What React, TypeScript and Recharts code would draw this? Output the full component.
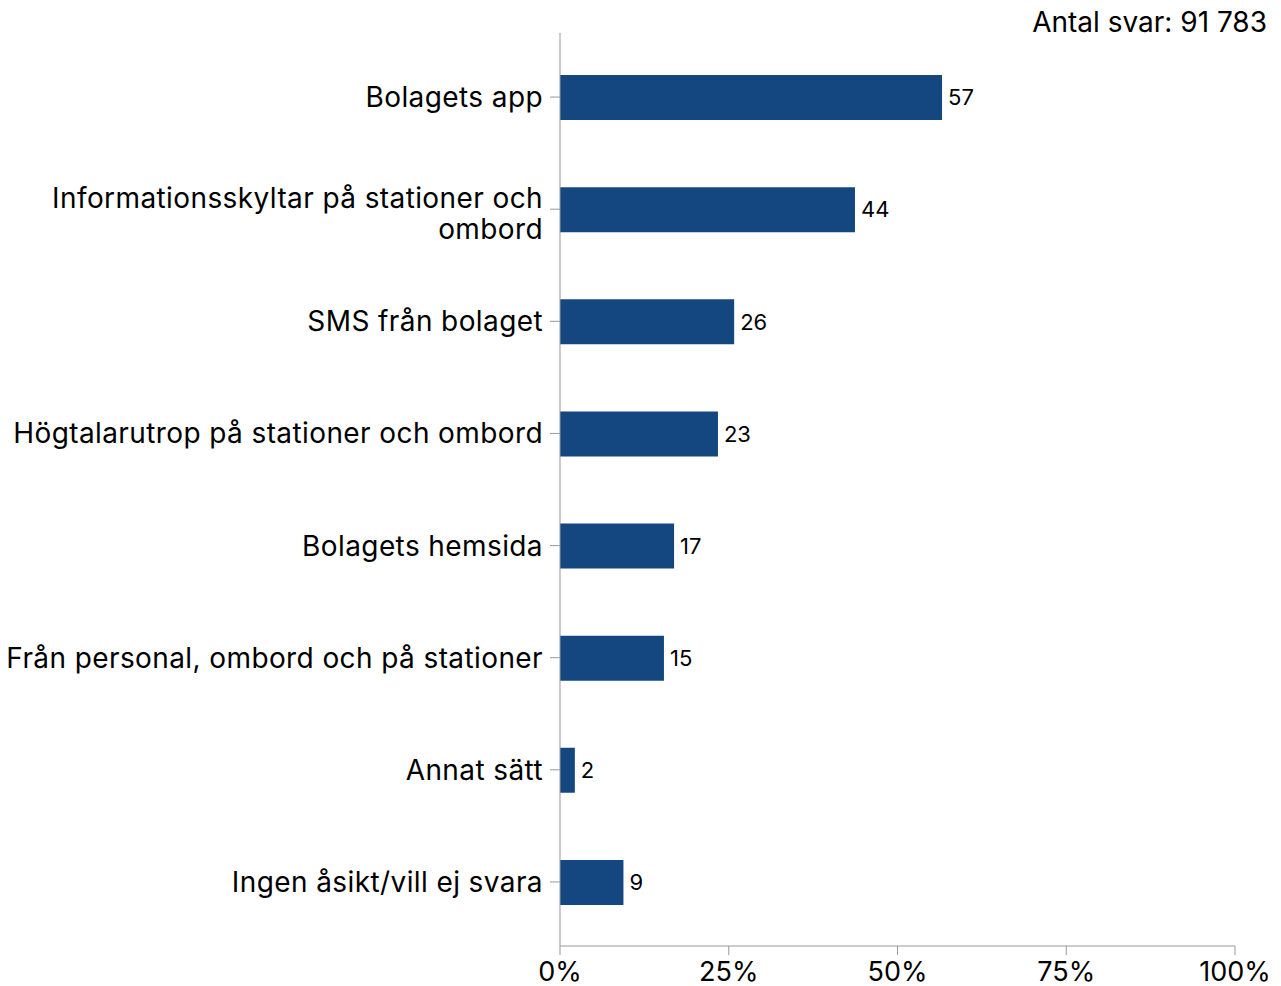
import { BarChart, Bar, XAxis, YAxis, LabelList } from "recharts";

const categories = [
  "Bolagets app",
  "Informationsskyltar på stationer och ombord",
  "SMS från bolaget",
  "Högtalarutrop på stationer och ombord",
  "Bolagets hemsida",
  "Från personal, ombord och på stationer",
  "Annat sätt",
  "Ingen åsikt/vill ej svara",
];
const shares = [56.6, 43.7, 25.8, 23.4, 16.9, 15.4, 2.2, 9.4];
const xTicks = [0, 25, 50, 75, 100];
const respondents = "Antal svar: 91 783";

const data = categories.map((name, i) => ({ name, value: shares[i] }));

const FONT = "Inter, 'Open Sans', sans-serif";
const TICK_FONT_SIZE = 28;
const TICK_SPACING = 0.4;

let ctx: CanvasRenderingContext2D | null = null;
function measure(s: string) {
  if (!ctx) ctx = document.createElement("canvas").getContext("2d");
  if (!ctx) return s.length * TICK_FONT_SIZE * 0.55;
  ctx.font = `${TICK_FONT_SIZE}px ${FONT}`;
  return ctx.measureText(s).width + s.length * TICK_SPACING;
}

function wrap(label: string, maxWidth: number) {
  const words = label.split(" ");
  const lines: string[] = [];
  let cur = "";
  for (const w of words) {
    const next = cur ? cur + " " + w : w;
    if (cur && measure(next) > maxWidth) {
      lines.push(cur);
      cur = w;
    } else cur = next;
  }
  if (cur) lines.push(cur);
  return lines;
}

function CategoryTick(props: any) {
  const { x, y, payload } = props;
  const lines = wrap(String(payload.value), 545);
  const lh = 31;
  const start = -((lines.length - 1) * lh) / 2 + (lines.length > 1 ? 4 : 0);
  return (
    <text
      x={x}
      y={y}
      textAnchor="end"
      fontSize={TICK_FONT_SIZE}
      letterSpacing={TICK_SPACING}
      fontFamily={FONT}
      fill="#000"
    >
      {lines.map((l, i) => (
        <tspan key={i} x={x} dy={i === 0 ? start + 10 : lh}>
          {l}
        </tspan>
      ))}
    </text>
  );
}

export default function App() {
  return (
    <div style={{ position: "absolute", left: 0, top: 0, width: 1281, height: 986, background: "#fff" }}>
      <div
        style={{
          position: "absolute",
          right: 14,
          top: 5,
          fontFamily: FONT,
          fontSize: 28,
          color: "#000",
        }}
      >
        {respondents}
      </div>
      <BarChart
        width={1281}
        height={986}
        data={data}
        layout="vertical"
        margin={{ top: 33, right: 46, bottom: 0, left: 0 }}
        barSize={45}
      >
        <XAxis
          type="number"
          domain={[0, 100]}
          ticks={xTicks}
          tickFormatter={(v) => `${v}%`}
          stroke="#999"
          tickSize={9}
          tickMargin={7}
          height={40}
          tick={{ fontSize: 27, fill: "#000", fontFamily: FONT }}
        />
        <YAxis
          type="category"
          dataKey="name"
          width={560}
          stroke="#999"
          tickSize={10}
          tickMargin={7}
          padding={{ top: 8, bottom: 8 }}
          interval={0}
          tick={<CategoryTick />}
        />
        <Bar dataKey="value" fill="#14477f" isAnimationActive={false}>
          <LabelList
            dataKey="value"
            position="right"
            offset={6}
            formatter={(v: any) => Math.round(Number(v))}
            style={{ fontSize: 22, fill: "#000", fontFamily: FONT }}
          />
        </Bar>
      </BarChart>
    </div>
  );
}
